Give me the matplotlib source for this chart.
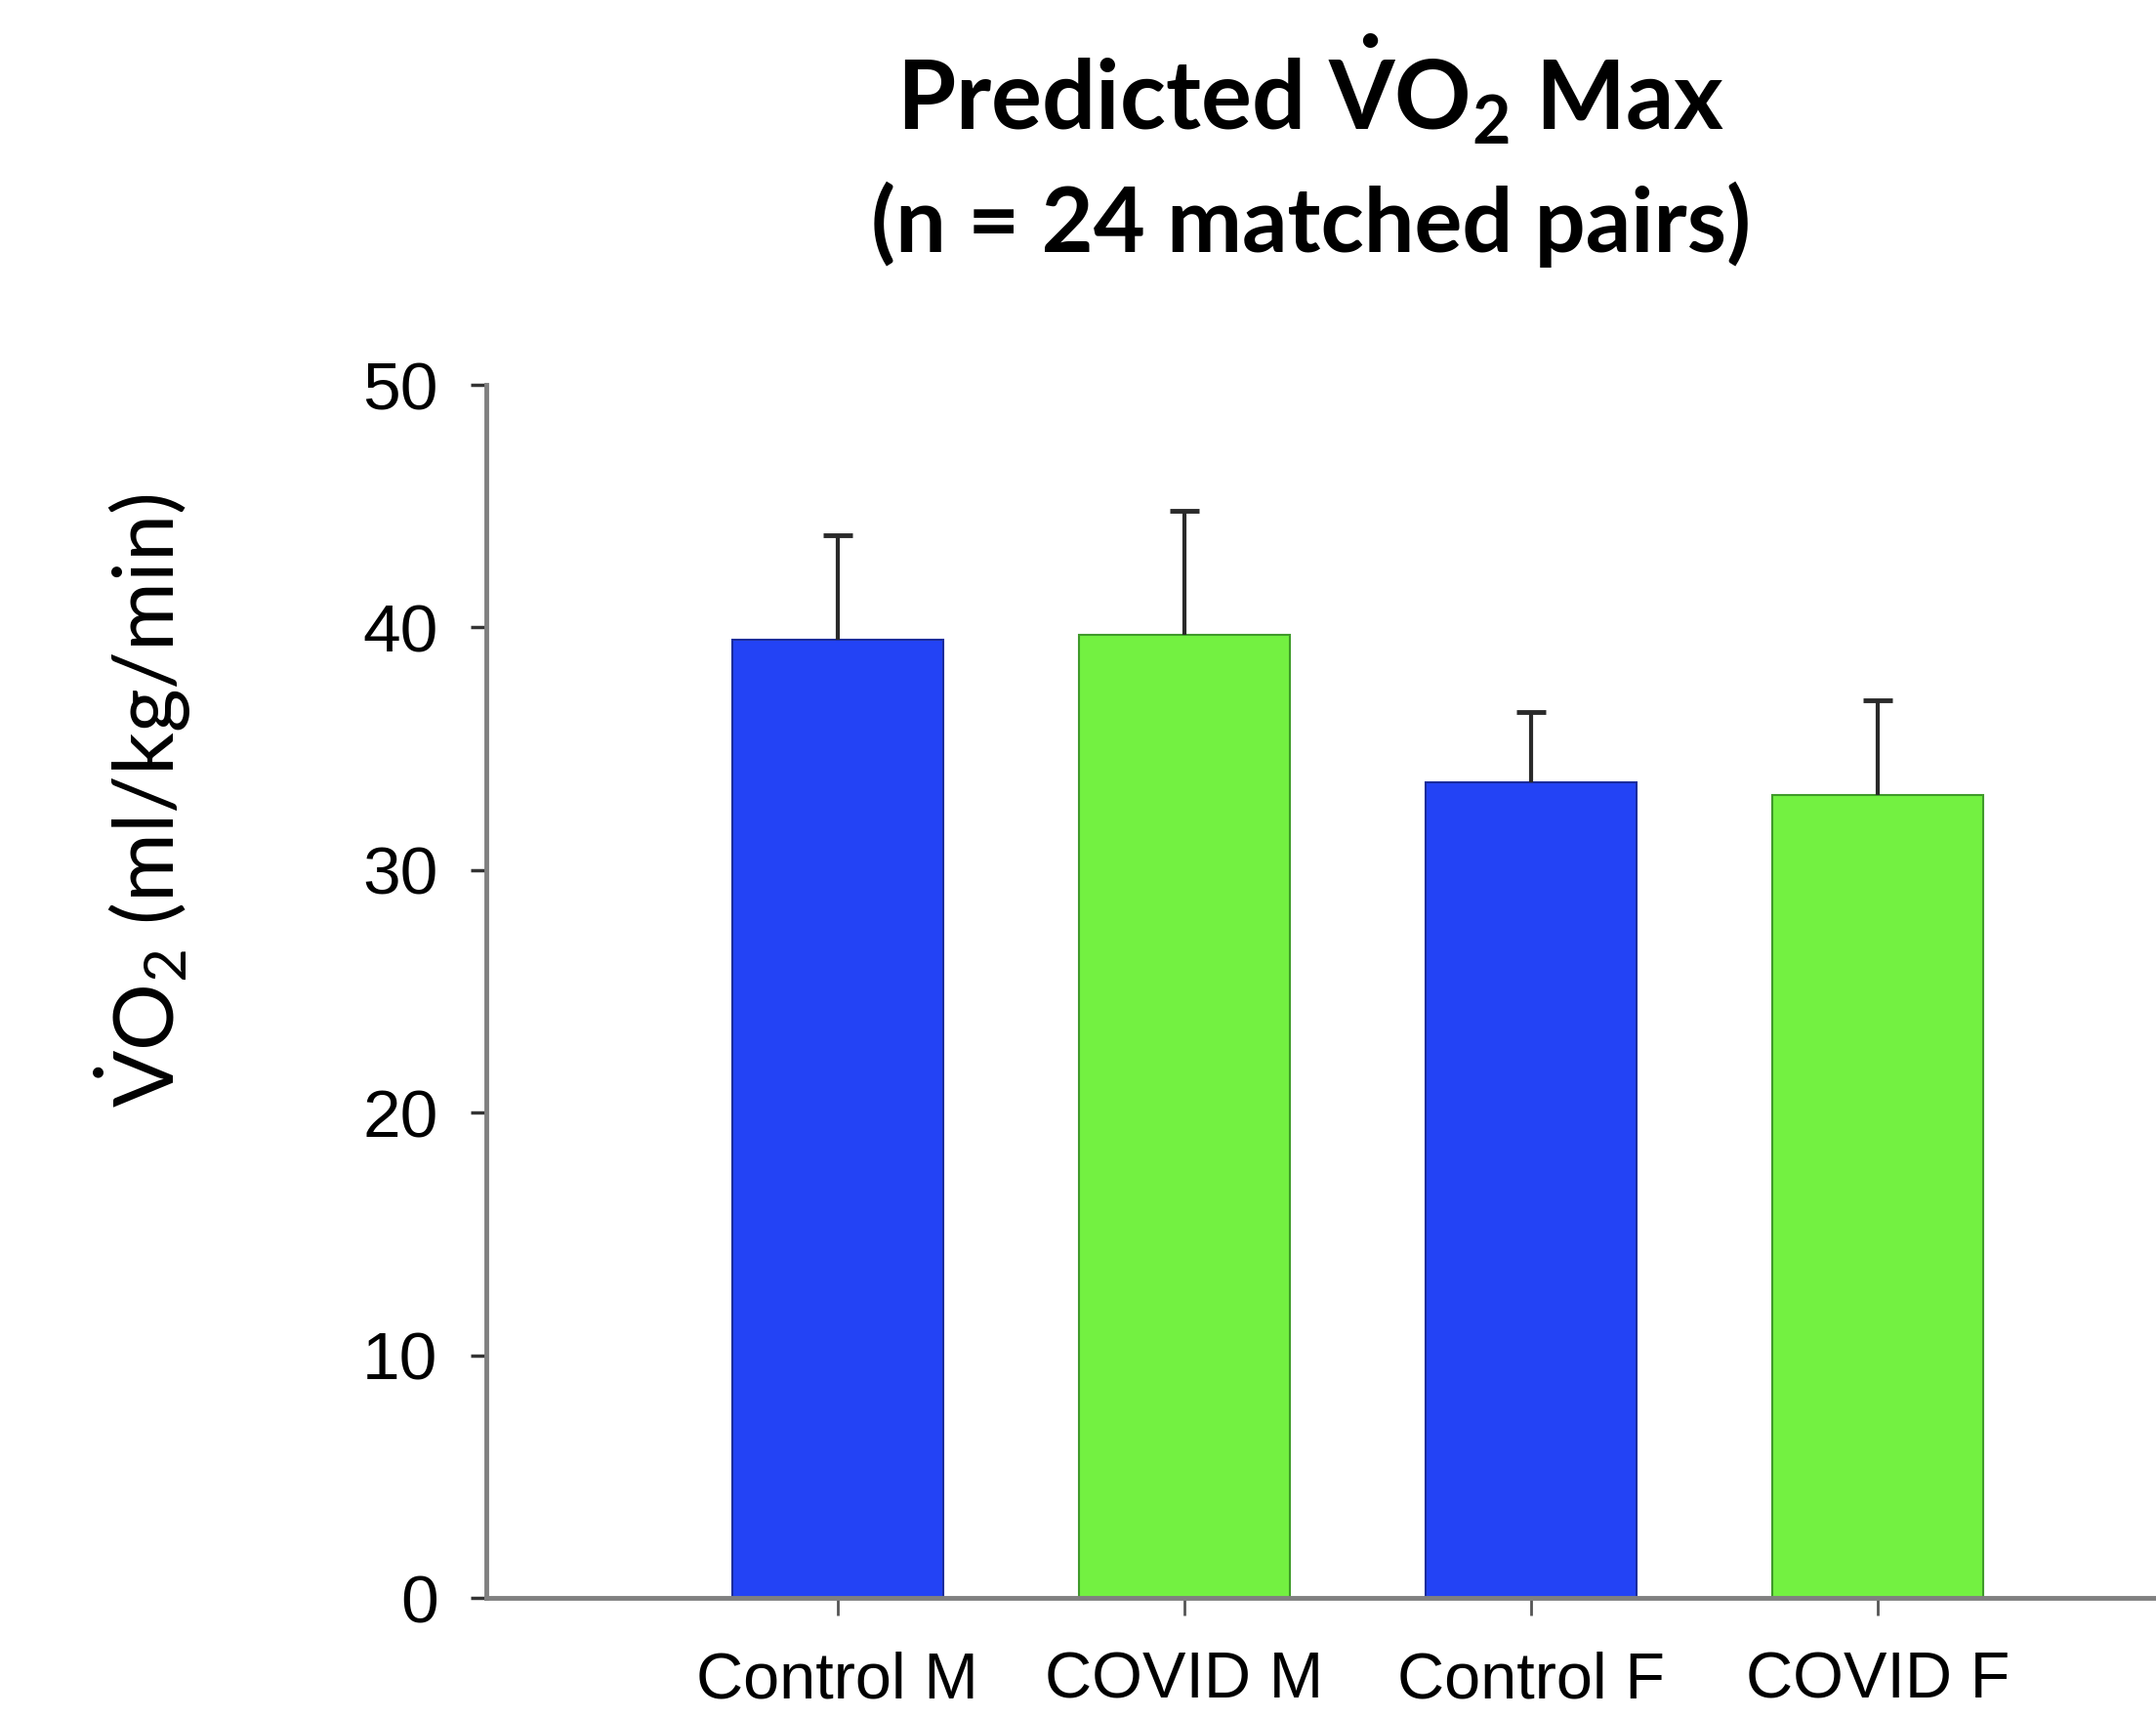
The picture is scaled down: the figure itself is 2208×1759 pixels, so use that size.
import matplotlib
matplotlib.use('Agg')
import matplotlib.pyplot as plt
import numpy as np

categories = ['Control M', 'COVID M', 'Control F', 'COVID F']
means = [39.5, 39.7, 33.6, 33.1]
errors = [4.3, 5.1, 2.9, 3.9]
bar_colors = ['#2343F5', '#73F141', '#2343F5', '#73F141']
edge_colors = ['#1B2C9C', '#3F9A2A', '#1B2C9C', '#3F9A2A']
yticks = [0, 10, 20, 30, 40, 50]

plt.rcParams['mathtext.fontset'] = 'custom'
plt.rcParams['mathtext.rm'] = 'Lato'
plt.rcParams['mathtext.bf'] = 'Lato:bold'
plt.rcParams['mathtext.it'] = 'Lato:italic'

fig = plt.figure(figsize=(22.08, 17.59), dpi=100)
ax = fig.add_axes([0.2255, 0.0699, 0.7745, 0.7061])

x = np.arange(len(categories))
m = np.array(means)
e = np.array(errors)
ax.bar(x, m, width=0.607, color=bar_colors, edgecolor=edge_colors,
       linewidth=1.5, zorder=2)
ax.vlines(x, m, m + e, color='#2a2a2a', linewidth=3, zorder=3)
ax.hlines(m + e, x - 0.042, x + 0.042, color='#2a2a2a', linewidth=3.5, zorder=3)

ax.set_xlim(-1.014, 3.803)
ax.set_ylim(0, 50)
ax.set_yticks(yticks)
ax.set_xticks(x)
ax.set_xticklabels(categories, fontfamily='Liberation Sans', fontsize=48)
ax.set_yticklabels([str(t) for t in yticks], fontfamily='Liberation Sans', fontsize=50)

for s in ['top', 'right']:
    ax.spines[s].set_visible(False)
for s in ['left', 'bottom']:
    ax.spines[s].set_color('#808080')
    ax.spines[s].set_linewidth(3.5)

ax.tick_params(axis='y', direction='out', length=11.5, width=2.5, color='#333333', pad=24)
ax.tick_params(axis='x', direction='out', length=13, width=2, color='#555555', pad=26)

fig.text(0.608, 0.9244, r'Predicted $\mathbf{\dot{V}O_2}$ Max', ha='center', va='baseline',
         fontfamily='Lato', fontweight='bold', fontsize=70)
fig.text(0.608, 0.8533, '(n = 24 matched pairs)', ha='center', va='baseline',
         fontfamily='Lato', fontweight='bold', fontsize=66)

fig.text(0.066, 0.534, r'$\dot{\mathrm{V}}\mathrm{O}_2$ (ml/kg/min)', ha='center', va='center',
         rotation=90, fontfamily='Lato', fontsize=62)

fig.savefig('out.png', dpi=100, facecolor='white')
